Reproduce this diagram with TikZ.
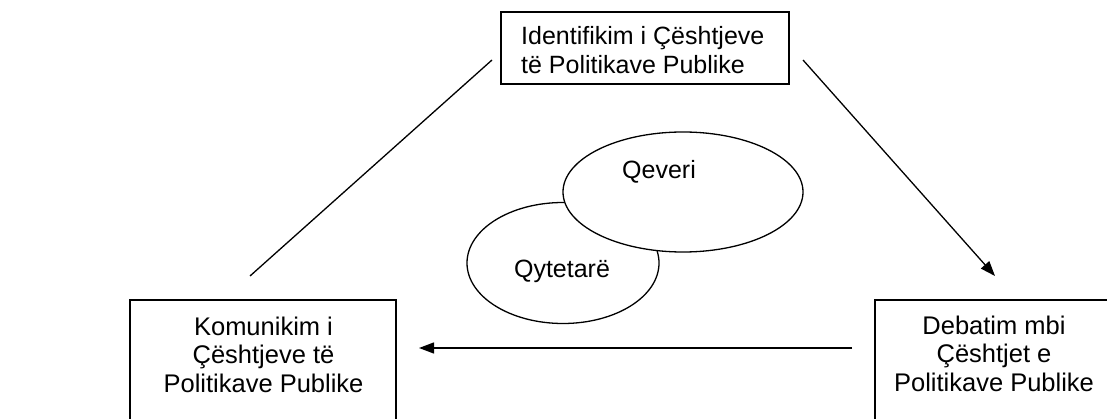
\documentclass[tikz,border=0pt]{standalone}
\usepackage{fontspec}
\setmainfont{Liberation Sans}
\usetikzlibrary{arrows.meta,shapes.geometric}
\newcommand{\firstline}{\rule{0pt}{20pt}}
\begin{document}
\begin{tikzpicture}[x=1pt,y=-1pt,
  boxshape/.style={draw,line width=1.3pt,rectangle,inner sep=0pt,outer sep=0pt,anchor=north west},
  ovalshape/.style={draw,line width=1.3pt,ellipse,inner sep=0pt,fill=white},
  lbl/.style={font=\fontsize{25}{29}\selectfont,inner sep=0pt},
  biglbl/.style={font=\fontsize{25.5}{28.5}\selectfont,inner sep=0pt},
  conn/.style={line width=1.3pt},
  arr/.style={line width=1.3pt,-{Triangle[length=15pt,width=11pt]}}]
\clip (0,0) rectangle (1107,419);
\fill[white] (0,0) rectangle (1107,419);
% boxes
\node[boxshape,minimum width=288pt,minimum height=72pt] (top) at (501,12) {};
\node[lbl,anchor=north west,align=left] (toptext) at (521,24) {\firstline Identifikim i Çështjeve\\të Politikave Publike};
\node[boxshape,minimum width=266pt,minimum height=140pt] (kom) at (130,300) {};
\node[biglbl,anchor=north,align=center] (komtext) at (263.5,315) {\firstline Komunikim i\\Çështjeve të\\Politikave Publike};
\node[boxshape,minimum width=240pt,minimum height=140pt] (deb) at (875,300) {};
\node[biglbl,anchor=north,align=center] (debtext) at (994,314) {\firstline Debatim mbi\\Çështjet e\\Politikave Publike};
% ellipses
\node[ovalshape,minimum width=192pt,minimum height=121pt] (qyt) at (563,263) {};
\node[lbl] (qyttext) at (562,271) {Qytetarë};
\node[ovalshape,minimum width=240pt,minimum height=120pt] (qev) at (683,192) {};
\node[lbl] (qevtext) at (659,172) {Qeveri};
% connector end points
\coordinate (c1) at (492,60);
\coordinate (c2) at (250,276);
\coordinate (c3) at (803,60);
\coordinate (c4) at (995,276);
\coordinate (c5) at (852,348);
\coordinate (c6) at (419,348);
\draw[conn] (c1) -- (c2);
\draw[arr] (c3) -- (c4);
\draw[arr] (c5) -- (c6);
\end{tikzpicture}
\end{document}
